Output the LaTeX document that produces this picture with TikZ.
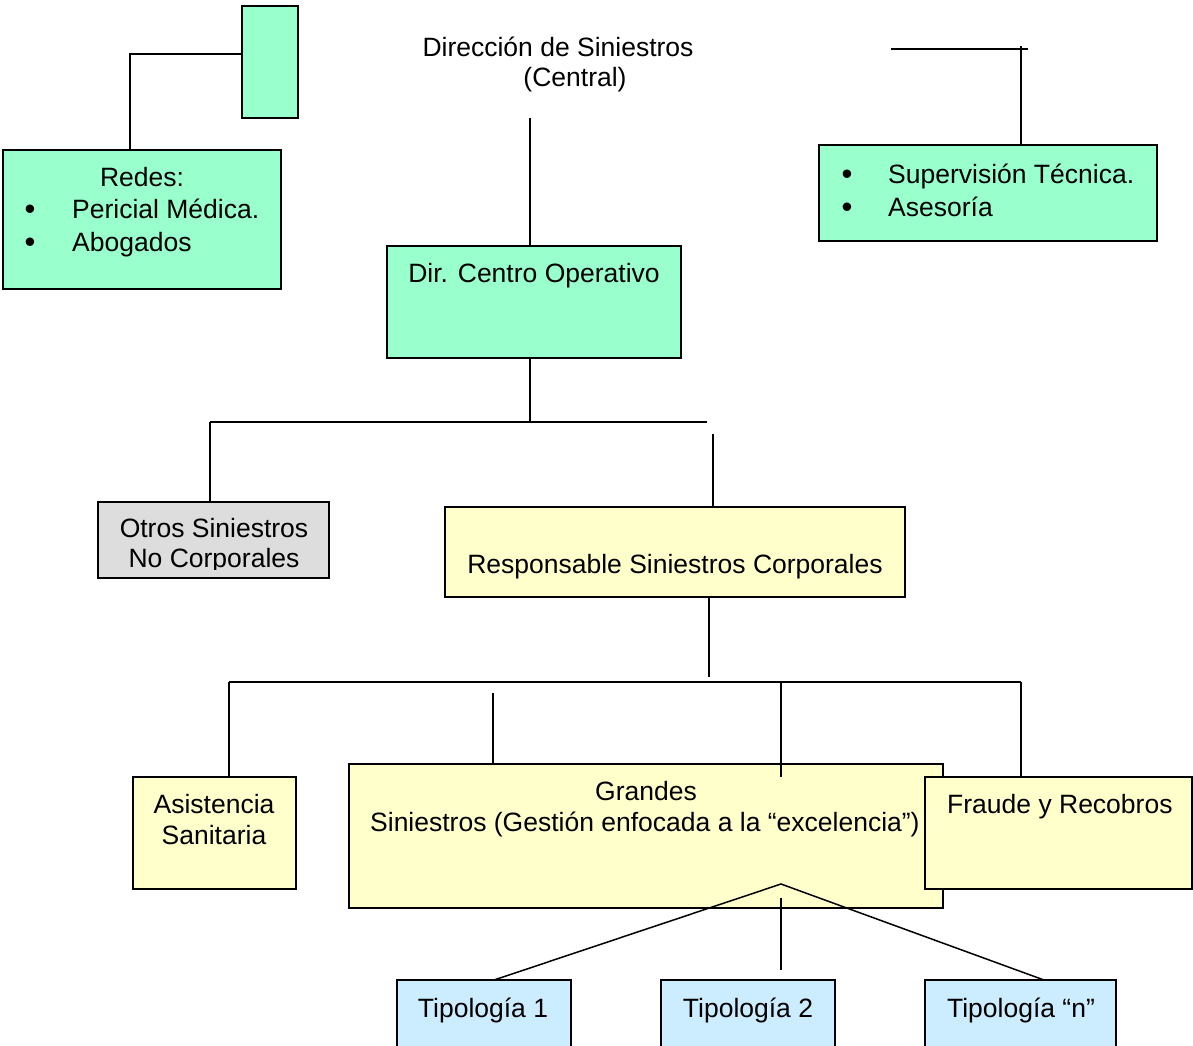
\documentclass[tikz,border=0pt]{standalone}
\usepackage{fontspec}
\setmainfont{Liberation Sans}
\definecolor{cgreen}{HTML}{99FFCC}
\definecolor{cyellow}{HTML}{FFFFCC}
\definecolor{cgray}{HTML}{DDDDDD}
\definecolor{cblue}{HTML}{CCECFF}
\begin{document}
\begin{tikzpicture}[x=1pt,y=-1pt,
  box/.style={draw=black, line width=2.8pt, inner sep=0pt, outer sep=0pt, anchor=north west},
  txt/.style={inner sep=0pt, anchor=base, font=\fontsize{26.5}{31}\selectfont},
  ltxt/.style={txt, anchor=base west},
  bul/.style={inner sep=0pt, anchor=base, font=\fontsize{31}{31}\selectfont},
  ln/.style={line width=1.5pt}]
\useasboundingbox (0,0) rectangle (1193,1045);
\fill[white] (0,0) rectangle (1193,1045);

% boxes
\node[box, fill=cgreen, minimum width=56pt, minimum height=112pt] (topbox) at (242,6) {};
\node[box, fill=cgreen, minimum width=278pt, minimum height=139pt] (redes) at (3,150) {};
\node[box, fill=cgreen, minimum width=338pt, minimum height=96pt] (sup) at (819,145) {};
\node[box, fill=cgreen, minimum width=294pt, minimum height=112pt] (dco) at (387,246) {};
\node[box, fill=cgray, minimum width=231pt, minimum height=76pt] (otros) at (98,502) {};
\node[box, fill=cyellow, minimum width=460pt, minimum height=90pt] (resp) at (445,507) {};
\node[box, fill=cyellow, minimum width=163pt, minimum height=112pt] (asis) at (133,777) {};
\node[box, fill=cyellow, minimum width=594pt, minimum height=144pt] (gran) at (349,764) {};
\node[box, fill=cyellow, minimum width=267pt, minimum height=112pt] (fraude) at (925,777) {};
\node[box, fill=cblue, minimum width=174pt, minimum height=80pt] (tip1) at (397,980) {};
\node[box, fill=cblue, minimum width=174pt, minimum height=80pt] (tip2) at (661,980) {};
\node[box, fill=cblue, minimum width=191pt, minimum height=80pt] (tipn) at (925,980) {};

% connector points
\coordinate (a1) at (242,54);
\coordinate (a2) at (130,54);
\coordinate (a3) at (130,150);
\coordinate (b1) at (891,49);
\coordinate (b2) at (1028,49);
\coordinate (b3) at (1021,46);
\coordinate (b4) at (1021,145);
\coordinate (c1) at (530,118);
\coordinate (c2) at (530,246);
\coordinate (d1) at (530,358);
\coordinate (d2) at (530,422);
\coordinate (d3) at (210,422);
\coordinate (d4) at (707,422);
\coordinate (d5) at (210,502);
\coordinate (e1) at (713,434);
\coordinate (e2) at (713,507);
\coordinate (f1) at (709,597);
\coordinate (f2) at (709,677);
\coordinate (g1) at (229,682);
\coordinate (g2) at (1021,682);
\coordinate (g3) at (229,777);
\coordinate (g4) at (1021,777);
\coordinate (g5) at (781,682);
\coordinate (g6) at (781,777);
\coordinate (h1) at (493,693);
\coordinate (h2) at (493,764);
\coordinate (k0) at (781,884);
\coordinate (k1) at (494,980);
\coordinate (k2) at (1044,980);
\coordinate (m1) at (781,898);
\coordinate (m2) at (781,970);

% connectors
\draw[ln] (a1) -- (a2) -- (a3);
\draw[ln] (b1) -- (b2);
\draw[ln] (b3) -- (b4);
\draw[ln] (c1) -- (c2);
\draw[ln] (d1) -- (d2);
\draw[ln] (d3) -- (d4);
\draw[ln] (d3) -- (d5);
\draw[ln] (e1) -- (e2);
\draw[ln] (f1) -- (f2);
\draw[ln] (g1) -- (g2);
\draw[ln] (g1) -- (g3);
\draw[ln] (g2) -- (g4);
\draw[ln] (g5) -- (g6);
\draw[ln] (h1) -- (h2);
\draw[ln] (k1) -- (k0) -- (k2);
\draw[ln] (m1) -- (m2);

% texts
\node[txt] (t1) at (558,56) {Dirección de Siniestros};
\node[txt] (t2) at (575,86) {(Central)};

\node[txt] (r0) at (142,186) {Redes:};
\node[bul] (rb1) at (30,219) {•};
\node[bul] (rb2) at (30,252) {•};
\node[ltxt] (r1) at (72,218) {Pericial Médica.};
\node[ltxt] (r2) at (72,251) {Abogados};

\node[bul] (sb1) at (847,184) {•};
\node[bul] (sb2) at (847,217) {•};
\node[ltxt] (s1) at (888,183) {Supervisión Técnica.};
\node[ltxt] (s2) at (888,216) {Asesoría};

\node[txt] (dcot) at (534,282) {Dir. Centro Operativo};

\begin{scope}
\clip (100,504) rectangle (327,569);
\node[txt] (o1) at (214,537) {Otros Siniestros};
\node[txt] (o2) at (214,567) {No Corporales};
\end{scope}

\node[txt] (respt) at (675,573) {Responsable Siniestros Corporales};

\node[txt] (as1) at (214,813) {Asistencia};
\node[txt] (as2) at (214,844) {Sanitaria};

\node[txt] (gr1) at (646,800) {Grandes};
\node[ltxt] (gr2) at (370,831) {Siniestros (Gestión enfocada a la “excelencia”)};

\node[ltxt] (frt) at (947,813) {Fraude y Recobros};

\node[txt] (tp1) at (483,1017) {Tipología 1};
\node[txt] (tp2) at (748,1017) {Tipología 2};
\node[txt] (tp3) at (1021,1017) {Tipología “n”};
\end{tikzpicture}
\end{document}
